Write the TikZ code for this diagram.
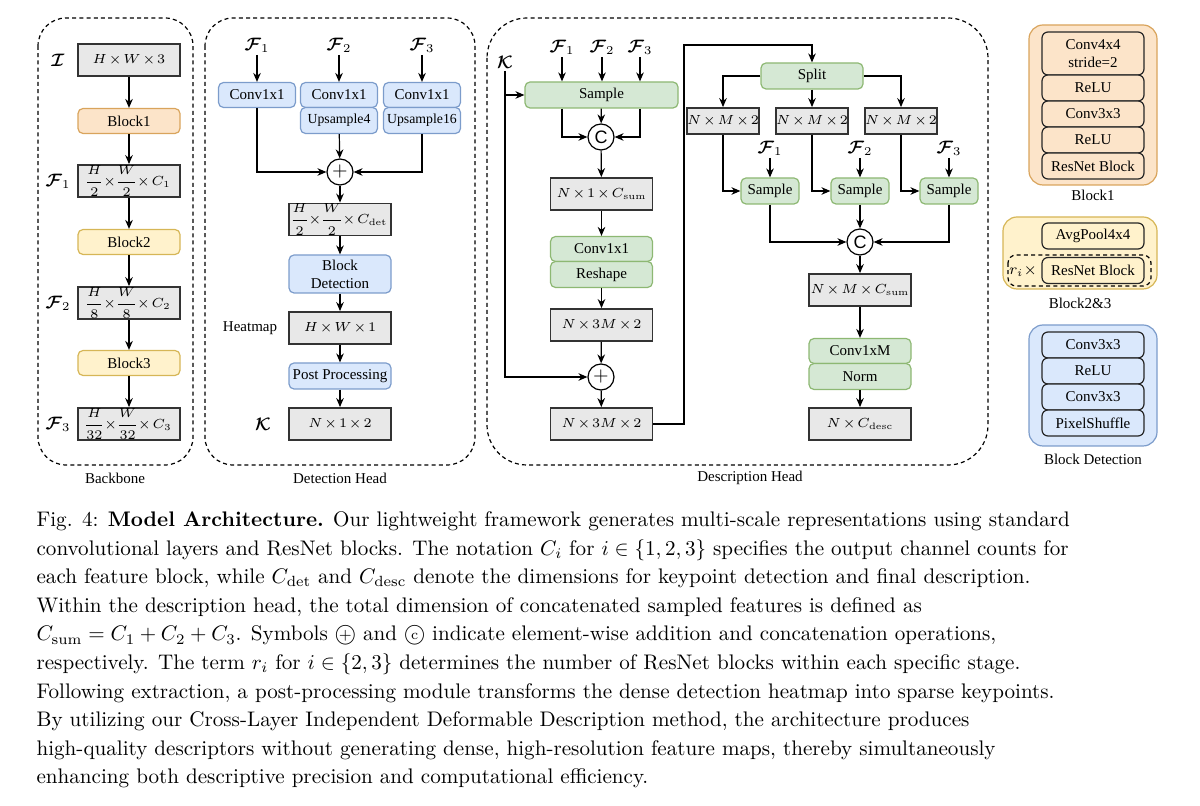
\RequirePackage{fix-cm}
\documentclass[tikz,border=0pt]{standalone}
\usepackage{amsmath,amssymb}
\usepackage{fontspec}
\newfontfamily\dfont{Liberation Serif}
\newfontfamily\sfont{Liberation Sans}
\usetikzlibrary{arrows.meta,positioning}
\definecolor{grF}{HTML}{E8E8E8}
\definecolor{orF}{HTML}{FCE4C9}
\definecolor{orD}{HTML}{D9A45C}
\definecolor{yeF}{HTML}{FFF2CC}
\definecolor{yeD}{HTML}{D6B656}
\definecolor{blF}{HTML}{DAE8FC}
\definecolor{blD}{HTML}{7C9CCB}
\definecolor{gnF}{HTML}{D5E8D4}
\definecolor{gnD}{HTML}{8DB873}
\newcommand{\circsym}[1]{\ooalign{\hfil\raisebox{0.12ex}{#1}\hfil\crcr$\bigcirc$}}
\newcommand{\dimfont}{\fontsize{6.6}{7}\selectfont\medmuskip=2mu\relax\nulldelimiterspace=0pt\relax}
\tikzset{
  >={Stealth[length=4.5pt,width=3.8pt]},
  every path/.style={line width=0.6pt},
  shp/.style ={minimum width=51pt, inner sep=0pt, align=center},
  dim/.style ={shp, draw=black!80, line width=0.9pt, fill=grF, minimum height=16pt, font=\dimfont},
  bo/.style  ={shp, draw=orD, fill=orF, rounded corners=2.5pt, minimum height=12.5pt, font=\dfont\fontsize{7.5}{9}\selectfont},
  by/.style  ={bo, draw=yeD, fill=yeF},
  bl/.style  ={bo, draw=blD, fill=blF},
  gr/.style  ={bo, draw=gnD, fill=gnF},
  opc/.style ={circle, draw, fill=white, inner sep=0pt, minimum size=13pt, font=\fontsize{10}{10}\selectfont},
  sym/.style ={inner sep=1pt, font=\fontsize{9}{10}\selectfont},
  tm/.style  ={inner sep=1pt, font=\dfont\fontsize{7.5}{9}\selectfont},
  grp/.style ={dashed, dash pattern=on 2pt off 1.6pt, rounded corners=14pt},
  lgi/.style ={shp, draw=black!85, rounded corners=3pt, minimum height=13pt, font=\dfont\fontsize{7.5}{9}\selectfont},
  captxt/.style={anchor=north west, align=left, inner sep=0pt, font=\fontsize{10.55}{14.3}\selectfont}
}

\begin{document}
\begin{tikzpicture}[x=0.5pt,y=-0.5pt]
\useasboundingbox (0,0) rectangle (1200,806);

% backbone
\draw[grp] (38,18) rectangle (193,465);
\node[tm] (tbb) at (115,478) {Backbone};
\node[dim] (img) at (129,60) {$H\times W\times 3$};
\node[bo] (b1) at (129,121) {Block1};
\node[dim] (f1) at (129,181) {$\dfrac{H}{2}\times\dfrac{W}{2}\times C_1$};
\node[by] (b2) at (129,242) {Block2};
\node[dim] (f2) at (129,303) {$\dfrac{H}{8}\times\dfrac{W}{8}\times C_2$};
\node[by] (b3) at (129,363) {Block3};
\node[dim] (f3) at (129,424) {$\dfrac{H}{32}\times\dfrac{W}{32}\times C_3$};
\node[sym] (limg) at (58,60) {$\boldsymbol{\mathcal{I}}$};
\node[sym] (lf1) at (58,181) {$\boldsymbol{\mathcal{F}}_1$};
\node[sym] (lf2) at (58,303) {$\boldsymbol{\mathcal{F}}_2$};
\node[sym] (lf3) at (58,424) {$\boldsymbol{\mathcal{F}}_3$};
\foreach \a/\b in {img/b1,b1/f1,f1/b2,b2/f2,f2/b3,b3/f3}
  \draw[->] (\a) -- (\b);

% detection head
\draw[grp] (205,18) rectangle (475,465);
\node[tm] (tdh) at (340,478) {Detection Head};
\node[sym] (df1) at (257,45) {$\boldsymbol{\mathcal{F}}_1$};
\node[sym] (df2) at (339,45) {$\boldsymbol{\mathcal{F}}_2$};
\node[sym] (df3) at (422,45) {$\boldsymbol{\mathcal{F}}_3$};
\node[bl, minimum width=38.5pt] (c1) at (257,95) {Conv1x1};
\node[bl, minimum width=38.5pt] (c2) at (339,95) {Conv1x1};
\node[bl, minimum width=38.5pt] (c3) at (422,95) {Conv1x1};
\node[bl, minimum width=38.5pt, minimum height=13pt, below=-0.6pt of c2, font=\dfont\fontsize{6.9}{8}\selectfont] (u4) {Upsample4};
\node[bl, minimum width=38.5pt, minimum height=13pt, below=-0.6pt of c3, font=\dfont\fontsize{6.9}{8}\selectfont] (u16) {Upsample16};
\node[opc] (add1) at (340,172) {$+$};
\node[dim] (cdet) at (340,219.5) {$\dfrac{H}{2}\times\dfrac{W}{2}\times C_{\mathrm{det}}$};
\node[bl, minimum height=19pt] (bdet) at (340,274) {Block\\Detection};
\node[dim] (heat) at (340,328) {$H\times W\times 1$};
\node[tm] (lheat) at (250,328) {Heatmap};
\node[bl, minimum height=13pt] (post) at (340,376) {Post Processing};
\node[dim] (kp) at (340,424) {$N\times 1\times 2$};
\node[sym] (lkp) at (263,424) {$\boldsymbol{\mathcal{K}}$};
\foreach \a/\b in {df1/c1,df2/c2,df3/c3}
  \draw[->] (\a) -- (\b);
\draw[->] (c1) |- (add1);
\draw[->] (u4) -- (add1);
\draw[->] (u16) |- (add1);
\foreach \a/\b in {add1/cdet,cdet/bdet,bdet/heat,heat/post,post/kp}
  \draw[->] (\a) -- (\b);

% description head
\draw[grp, rounded corners=20pt] (487,18) rectangle (988,465);
\node[tm] (tds) at (750,478) {Description Head};
\node[sym] (ef1) at (562,47) {$\boldsymbol{\mathcal{F}}_1$};
\node[sym] (ef2) at (602,47) {$\boldsymbol{\mathcal{F}}_2$};
\node[sym] (ef3) at (640,47) {$\boldsymbol{\mathcal{F}}_3$};
\node[sym] (lk) at (505,62) {$\boldsymbol{\mathcal{K}}$};
\node[gr, minimum width=76.5pt, minimum height=13pt] (smp) at (601.5,95) {Sample};
\node[opc] (cat0) at (601,137) {\sfont\fontsize{9}{9}\selectfont C};
\node[dim] (csum) at (601.5,194) {$N\times 1\times C_{\mathrm{sum}}$};
\node[gr] (cv) at (601.5,249) {Conv1x1};
\node[gr, minimum height=13pt, below=-0.6pt of cv] (rs) {Reshape};
\node[dim] (off) at (601.5,325) {$N\times 3M\times 2$};
\node[opc] (add2) at (601,377) {$+$};
\node[dim] (pos) at (601.5,424) {$N\times 3M\times 2$};
\foreach \n in {ef1,ef2,ef3}
  \draw[->] (\n) -- (\n |- smp.north);
\draw[->] (smp.south -| ef1) |- (cat0);
\draw[->] (smp) -- (cat0);
\draw[->] (smp.south -| ef3) |- (cat0);
\draw[->] (lk.south) |- (add2);
\draw[->] (lk.south |- smp) -- (smp.west);
\foreach \a/\b in {cat0/csum,csum/cv,rs/off,off/add2,add2/pos}
  \draw[->] (\a) -- (\b);

\node[gr, minimum height=13pt] (split) at (812,76) {Split};
\coordinate (rt) at (684,45);
\draw[->] (pos.east) -| (rt) -| (split.north);
\node[dim, minimum width=32pt, minimum height=13pt] (p1) at (723,121) {$N\times M\times 2$};
\node[dim, minimum width=32pt, minimum height=13pt] (p2) at (812,121) {$N\times M\times 2$};
\node[dim, minimum width=32pt, minimum height=13pt] (p3) at (901,121) {$N\times M\times 2$};
\draw[->] (split) -| (p1);
\draw[->] (split) -- (p2);
\draw[->] (split) -| (p3);
\node[sym] (gf1) at (770,148) {$\boldsymbol{\mathcal{F}}_1$};
\node[sym] (gf2) at (860,148) {$\boldsymbol{\mathcal{F}}_2$};
\node[sym] (gf3) at (949,148) {$\boldsymbol{\mathcal{F}}_3$};
\node[gr, minimum width=29pt, minimum height=13pt] (s1) at (770,191) {Sample};
\node[gr, minimum width=29pt, minimum height=13pt] (s2) at (860,191) {Sample};
\node[gr, minimum width=29pt, minimum height=13pt] (s3) at (949,191) {Sample};
\foreach \i in {1,2,3} {
  \draw[->] (gf\i) -- (s\i);
  \draw[->] (p\i) |- (s\i);
}
\node[opc] (cat1) at (860,242) {\sfont\fontsize{9}{9}\selectfont C};
\draw[->] (s1) |- (cat1);
\draw[->] (s2) -- (cat1);
\draw[->] (s3) |- (cat1);
\node[dim] (msum) at (860,290) {$N\times M\times C_{\mathrm{sum}}$};
\node[gr] (cm) at (860,351) {Conv1xM};
\node[gr, minimum height=13pt, below=-0.6pt of cm] (nm) {Norm};
\node[dim] (dsc) at (860,424) {$N\times C_{\mathrm{desc}}$};
\draw[->] (cat1) -- (msum);
\draw[->] (msum) -- (cm);
\draw[->] (nm) -- (dsc);

% legends
\draw[draw=orD, fill=orF, rounded corners=7pt] (1029,25) rectangle (1157,185);
\node[lgi, fill=orF, minimum height=21.5pt] (l1a) at (1093,53.5) {Conv4x4\\stride=2};
\node[lgi, fill=orF, below=-0.6pt of l1a] (l1b) {ReLU};
\node[lgi, fill=orF, below=-0.6pt of l1b] (l1c) {Conv3x3};
\node[lgi, fill=orF, below=-0.6pt of l1c] (l1d) {ReLU};
\node[lgi, fill=orF, below=-0.6pt of l1d] (l1e) {ResNet Block};
\node[tm] (t1) at (1093,195) {Block1};

\draw[draw=yeD, fill=yeF, rounded corners=7pt] (1003,217) rectangle (1157,289);
\node[lgi, fill=yeF] (l2a) at (1093,236) {AvgPool4x4};
\draw[dashed, dash pattern=on 2pt off 1.6pt, rounded corners=4pt] (1008,255) rectangle (1151,286);
\node[lgi, fill=yeF] (l2b) at (1093,270.5) {ResNet Block};
\node[inner sep=0pt, font=\fontsize{7.5}{9}\selectfont] (lri) at (1023,271) {$r_i\times$};
\node[tm] (t2) at (1080,303) {Block2\&3};

\draw[draw=blD, fill=blF, rounded corners=7pt] (1029,325) rectangle (1157,446);
\node[lgi, fill=blF] (l3a) at (1093,345) {Conv3x3};
\node[lgi, fill=blF, below=-0.6pt of l3a] (l3b) {ReLU};
\node[lgi, fill=blF, below=-0.6pt of l3b] (l3c) {Conv3x3};
\node[lgi, fill=blF, below=-0.6pt of l3c] (l3d) {PixelShuffle};
\node[tm] (t3) at (1093,459) {Block Detection};

% caption
\node[captxt] (fig) at (36,511) {Fig. 4: \textbf{Model Architecture.} Our lightweight framework generates multi-scale representations using standard\\
convolutional layers and ResNet blocks. The notation $C_i$ for $i \in \{1,2,3\}$ specifies the output channel counts for\\
each feature block, while $C_{\mathrm{det}}$ and $C_{\mathrm{desc}}$ denote the dimensions for keypoint detection and final description.\\
Within the description head, the total dimension of concatenated sampled features is defined as\\
$C_{\mathrm{sum}} = C_1 + C_2 + C_3$. Symbols \circsym{$\scriptstyle +$} and \circsym{\scriptsize c} indicate element-wise addition and concatenation operations,\\
respectively. The term $r_i$ for $i \in \{2,3\}$ determines the number of ResNet blocks within each specific stage.\\
Following extraction, a post-processing module transforms the dense detection heatmap into sparse keypoints.\\
By utilizing our Cross-Layer Independent Deformable Description method, the architecture produces\\
high-quality descriptors without generating dense, high-resolution feature maps, thereby simultaneously\\
enhancing both descriptive precision and computational efficiency.};
\end{tikzpicture}
\end{document}
